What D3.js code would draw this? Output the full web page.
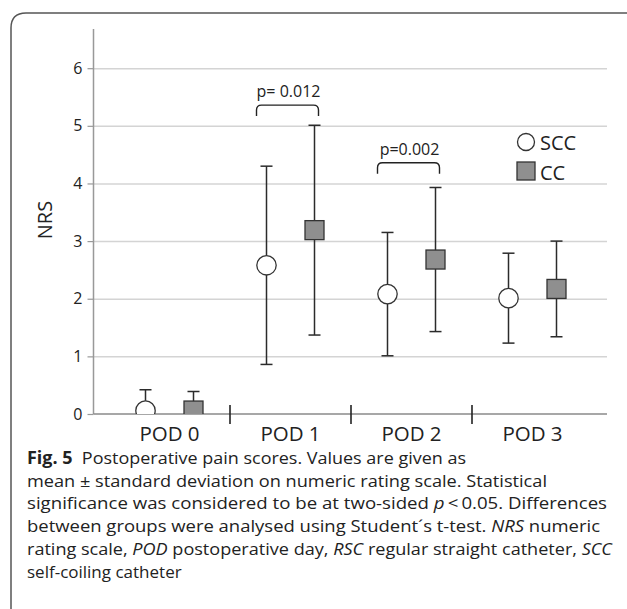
<!DOCTYPE html>
<html>
<head>
<meta charset="utf-8">
<script src="https://cdn.jsdelivr.net/npm/d3@7"></script>
<style>
    body { margin: 0; background: #fff; }
    svg { display: block; font-family: "Open Sans", sans-serif; }
</style>
</head>
<body>
<div id="chart"></div>
<script>
// values (mean and standard deviation of NRS)
const categories = ["POD 0", "POD 1", "POD 2", "POD 3"];
const sccMean = [0.06, 2.58, 2.08, 2.01];
const sccSD = [0.36, 1.72, 1.07, 0.78];
const ccMean = [0.06, 3.19, 2.68, 2.17];
const ccSD = [0.33, 1.82, 1.25, 0.83];
const yTicks = [0, 1, 2, 3, 4, 5, 6];
const pLabels = ["p= 0.012", "p=0.002"];
const pCategories = ["POD 1", "POD 2"];
const pLevels = [5.36, 4.36];
const legendNames = ["SCC", "CC"];

const captionLines = [
    [["Fig. 5", "b"], ["  Postoperative pain scores. Values are given as", ""]],
    [["mean \u00b1 standard deviation on numeric rating scale. Statistical", ""]],
    [["significance was considered to be at two-sided ", ""], ["p", "i"], ["\u2009<\u20090.05. Differences", ""]],
    [["between groups were analysed using Student\u00b4s t-test. ", ""], ["NRS", "i"], [" numeric", ""]],
    [["rating scale, ", ""], ["POD", "i"], [" postoperative day, ", ""], ["RSC", "i"], [" regular straight catheter, ", ""], ["SCC", "i"]],
    [["self-coiling catheter", ""]]
];
const captionWidths = [439, 520, 580, 573, 585, null];

(function () {
    const width = 627;
    const height = 609;

    const svg = d3.select("#chart")
        .append("svg")
        .attr("width", width)
        .attr("height", height);

    // figure frame (open at the right and bottom)
    svg.append("path")
        .attr("d", "M11,609 L11,28 Q11,13 26,13 L640,13")
        .attr("fill", "none")
        .attr("stroke", "#555")
        .attr("stroke-width", 1.5);

    const left = 93.5, right = 607, top = 29, bottom = 414;

    const y = d3.scaleLinear().domain([0, 6.68]).range([bottom, top]);
    const x = d3.scaleBand().domain(categories).range([109, 593]);
    const offset = 24;

    // grid
    svg.append("g")
        .attr("transform", `translate(${left},0)`)
        .call(d3.axisLeft(y).tickValues(yTicks.slice(1)).tickSize(-(right - left)).tickFormat(""))
        .call(g => g.select(".domain").remove())
        .call(g => g.selectAll("line").attr("stroke", "#d4d4d4").attr("stroke-width", 1.5));

    // y axis
    svg.append("g")
        .attr("transform", `translate(${left},0)`)
        .call(d3.axisLeft(y).tickValues(yTicks).tickSize(6).tickPadding(5).tickFormat(d3.format("d")))
        .call(g => g.select(".domain").attr("d", `M0,${top}V${bottom}`).attr("stroke", "#999").attr("stroke-width", 1.5))
        .call(g => g.selectAll("line").attr("stroke", "#999").attr("stroke-width", 1.2))
        .call(g => g.selectAll("text").attr("font-size", 16).attr("fill", "#222")
            .attr("font-family", "Open Sans, sans-serif"));

    // x axis line
    svg.append("line")
        .attr("x1", left).attr("x2", right)
        .attr("y1", y(0)).attr("y2", y(0))
        .attr("stroke", "#8a8a8a").attr("stroke-width", 1.5);

    // category separators
    svg.append("g")
        .selectAll("line")
        .data(categories.slice(1))
        .join("line")
        .attr("x1", d => x(d)).attr("x2", d => x(d))
        .attr("y1", y(0) - 9).attr("y2", y(0) + 10)
        .attr("stroke", "#222").attr("stroke-width", 1.6);

    svg.append("g")
        .selectAll("text")
        .data(categories)
        .join("text")
        .attr("x", d => x(d) + x.bandwidth() / 2)
        .attr("y", 441)
        .attr("text-anchor", "middle")
        .attr("font-size", 20.5)
        .attr("fill", "#222")
        .text(d => d);

    // y title
    svg.append("text")
        .attr("transform", "translate(51.5,220) rotate(-90)")
        .attr("text-anchor", "middle")
        .attr("font-size", 20)
        .attr("fill", "#222")
        .text("NRS");

    svg.append("clipPath")
        .attr("id", "plot-clip")
        .append("rect")
        .attr("x", left).attr("y", 0)
        .attr("width", right - left).attr("height", bottom);

    const plot = svg.append("g").attr("clip-path", "url(#plot-clip)");

    const series = [
        { mean: sccMean, sd: sccSD, dx: -offset, shape: "circle" },
        { mean: ccMean, sd: ccSD, dx: offset, shape: "square" }
    ];

    series.forEach(s => {
        const rows = categories.map((c, i) => ({
            cx: x(c) + x.bandwidth() / 2 + s.dx,
            mean: s.mean[i],
            lo: s.mean[i] - s.sd[i],
            hi: s.mean[i] + s.sd[i]
        }));

        const g = plot.append("g");

        g.selectAll(".bar")
            .data(rows)
            .join("line")
            .attr("x1", d => d.cx).attr("x2", d => d.cx)
            .attr("y1", d => y(d.lo)).attr("y2", d => y(d.hi))
            .attr("stroke", "#2b2b2b").attr("stroke-width", 1.5);

        ["lo", "hi"].forEach(k => {
            g.selectAll(".cap-" + k)
                .data(rows)
                .join("line")
                .attr("x1", d => d.cx - 6).attr("x2", d => d.cx + 6)
                .attr("y1", d => y(d[k])).attr("y2", d => y(d[k]))
                .attr("stroke", "#2b2b2b").attr("stroke-width", 1.5);
        });

        if (s.shape === "circle") {
            g.selectAll("circle")
                .data(rows)
                .join("circle")
                .attr("cx", d => d.cx)
                .attr("cy", d => y(d.mean))
                .attr("r", 9.7)
                .attr("fill", "#fff")
                .attr("stroke", "#333")
                .attr("stroke-width", 1.3);
        } else {
            g.selectAll("rect")
                .data(rows)
                .join("rect")
                .attr("x", d => d.cx - 9.5)
                .attr("y", d => y(d.mean) - 9.5)
                .attr("width", 19).attr("height", 19)
                .attr("fill", "#8f8f8f")
                .attr("stroke", "#333")
                .attr("stroke-width", 1.3);
        }
    });

    // significance brackets
    pCategories.forEach((c, i) => {
        const x0 = x(c) + x.bandwidth() / 2 - offset - 10;
        const x1 = x(c) + x.bandwidth() / 2 + offset + 4;
        const yt = y(pLevels[i]);
        const yb = yt + 11;
        const r = 5;
        svg.append("path")
            .attr("d", `M${x0},${yb} V${yt + r} Q${x0},${yt} ${x0 + r},${yt} H${x1 - r} Q${x1},${yt} ${x1},${yt + r} V${yb}`)
            .attr("fill", "none")
            .attr("stroke", "#222")
            .attr("stroke-width", 1.4);
        svg.append("text")
            .attr("x", (x0 + x1) / 2 + 1)
            .attr("y", yt - 8)
            .attr("text-anchor", "middle")
            .attr("font-size", 16)
            .attr("fill", "#222")
            .text(pLabels[i]);
    });

    // legend
    const legend = svg.append("g").attr("transform", "translate(526,0)");
    legend.append("circle")
        .attr("cx", 0).attr("cy", 142)
        .attr("r", 8.5)
        .attr("fill", "#fff").attr("stroke", "#333").attr("stroke-width", 1.3);
    legend.append("rect")
        .attr("x", -9).attr("y", 162)
        .attr("width", 18).attr("height", 18)
        .attr("fill", "#8f8f8f").attr("stroke", "#333").attr("stroke-width", 1.3);
    legend.selectAll("text")
        .data(legendNames)
        .join("text")
        .attr("x", 14)
        .attr("y", (d, i) => 150 + i * 29.5)
        .attr("font-size", 20)
        .attr("fill", "#222")
        .text(d => d);

    // caption
    const caption = svg.append("g");
    captionLines.forEach((line, i) => {
        const t = caption.append("text")
            .attr("x", 27)
            .attr("y", 464 + i * 22.7)
            .attr("font-size", 17)
            .attr("fill", "#222");
        if (captionWidths[i]) {
            t.attr("textLength", captionWidths[i]).attr("lengthAdjust", "spacingAndGlyphs");
        }
        line.forEach(([str, style]) => {
            t.append("tspan")
                .attr("font-weight", style === "b" ? 700 : null)
                .attr("font-style", style === "i" ? "italic" : null)
                .attr("xml:space", "preserve")
                .style("white-space", "pre")
                .text(str);
        });
    });
})();
</script>
</body>
</html>
